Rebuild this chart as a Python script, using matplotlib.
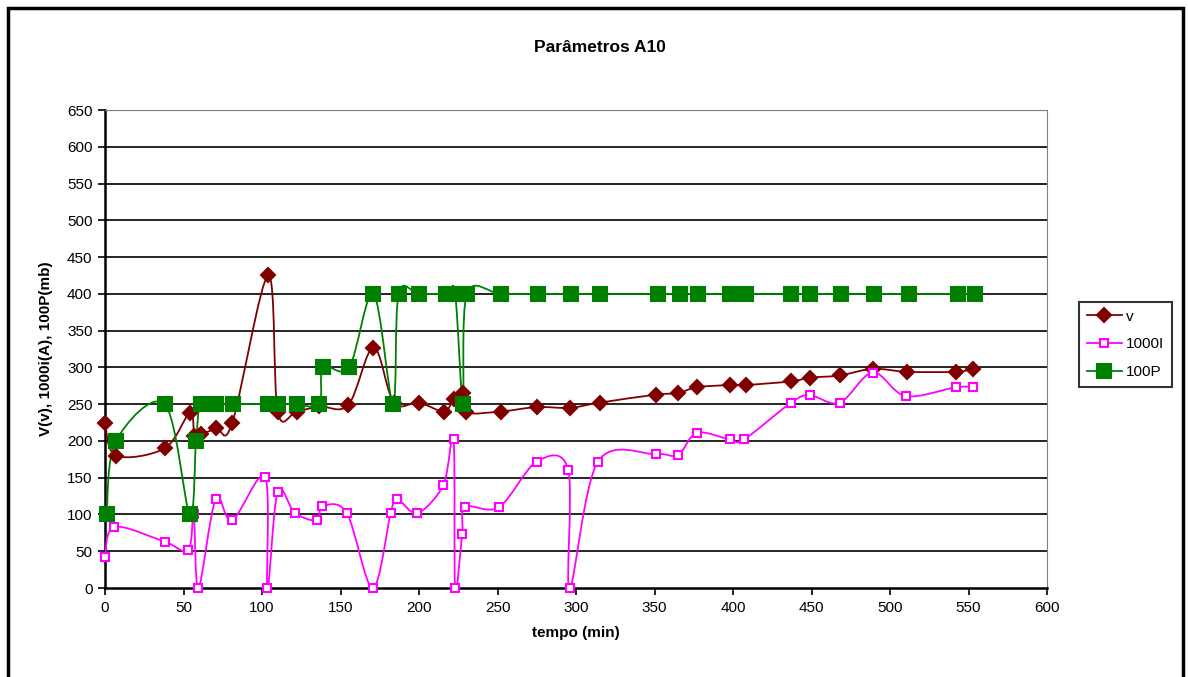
import numpy as np
import matplotlib
matplotlib.use('Agg')
import matplotlib.pyplot as plt
from matplotlib.path import Path
from matplotlib.patches import PathPatch, Rectangle
from matplotlib.lines import Line2D

plt.rcParams['font.family'] = ['Liberation Sans', 'DejaVu Sans']

# dados
t_v = [0, 7, 38, 54, 57, 61, 71, 81, 104, 110, 122, 136.5, 155, 171, 184, 200,
       216, 222, 228, 230, 252, 275, 296, 315, 351, 365, 377, 398, 408, 437,
       449, 468, 489, 511, 542, 553]
v = [225, 180, 190, 238, 207, 209, 217, 224, 425, 240, 240, 247, 249, 327, 252,
     252, 240, 257, 265, 239, 240, 246, 245, 252, 263, 265, 273, 276, 276, 281,
     286, 289, 298, 294, 294, 298]

t_i = [0, 6, 38, 53, 56.5, 59.5, 70.5, 81, 102, 103.5, 110, 121, 135, 138.5,
       154, 170.5, 182, 186, 199, 215.5, 222, 223, 227.5, 229.5, 251, 275, 295,
       296, 314, 351, 365, 377, 398, 407, 437, 449, 468, 489, 510, 542, 553]
i1000 = [42, 83, 63, 51, 100, 0, 121, 92, 151, 0, 131, 102, 92, 111, 102, 0,
         102, 121, 102, 140, 202, 0, 73, 110, 110, 172, 161, 0, 172, 182, 181,
         211, 202, 202, 252, 262, 252, 293, 261, 273, 273]

t_p = [1, 7, 38, 54, 58, 61, 71, 81.5, 104, 110.5, 122, 136.5, 139, 155.5, 171,
       183.5, 187, 200, 217.5, 223, 228, 230.5, 252, 276, 297, 315, 352, 366,
       378, 398, 408, 437, 449, 469, 490, 512, 543, 554]
p100 = [100, 200, 250, 100, 200, 250, 250, 250, 250, 250, 250, 250, 300, 300,
        400, 250, 400, 400, 400, 400, 250, 400, 400, 400, 400, 400, 400, 400,
        400, 400, 400, 400, 400, 400, 400, 400, 400, 400]

yticks = list(range(0, 651, 50))
xticks = list(range(0, 601, 50))


def smooth_path(x, y):
    # curva suavizada tipo Excel (Bezier)
    pts = np.column_stack([x, y]).astype(float)
    n = len(pts)
    verts = [pts[0]]
    codes = [Path.MOVETO]
    for k in range(n - 1):
        p0 = pts[k - 1] if k > 0 else pts[k]
        p1 = pts[k]
        p2 = pts[k + 1]
        p3 = pts[k + 2] if k + 2 < n else pts[k + 1]
        c1 = p1 + (p2 - p0) / 6
        c2 = p2 - (p3 - p1) / 6
        verts += [c1, c2, p2]
        codes += [Path.CURVE4] * 3
    return Path(verts, codes)


fig = plt.figure(figsize=(11.88, 6.77), dpi=100)
ax = fig.add_axes([105 / 1188, 1 - 588 / 677, 942 / 1188, 478 / 677])

series = [
    (t_v, v, '#800000', 'D', 7, '#800000', 'v'),
    (t_i, i1000, '#FF00FF', 's', 6, 'white', '1000I'),
    (t_p, p100, '#008000', 's', 10, '#008000', '100P'),
]
handles = []
for x, y, c, m, ms, fc, lab in series:
    ax.add_patch(PathPatch(smooth_path(x, y), fill=False, edgecolor=c,
                           lw=1.3, zorder=3))
    ax.plot(x, y, linestyle='none', marker=m, ms=ms, mfc=fc, mec=c,
            mew=1.5, zorder=4, clip_on=False)
    handles.append(Line2D([], [], color=c, lw=1.3, marker=m, ms=ms,
                          mfc=fc, mec=c, mew=1.5, label=lab))

ax.set_xlim(0, 600)
ax.set_ylim(0, 650)
ax.set_xticks(xticks)
ax.set_yticks(yticks)
ax.tick_params(labelsize=11, direction='out', length=5, width=1.2, pad=4)
for yy in yticks[1:-1]:
    ax.axhline(yy, color='black', lw=1.2, zorder=1)
ax.axhline(650, color='#808080', lw=1.5, zorder=1)
for s in ['top', 'right']:
    ax.spines[s].set_color('#808080')
for s in ['left', 'bottom']:
    ax.spines[s].set_linewidth(1.8)

ax.set_xlabel('tempo (min)', fontsize=11, fontweight='bold', labelpad=8)
ax.set_ylabel('V(v), 1000i(A), 100P(mb)', fontsize=11, fontweight='bold',
              labelpad=10)
fig.text(600 / 1188, 1 - 47 / 677, 'Parâmetros A10', fontsize=12.5,
         fontweight='bold', ha='center', va='center')

leg = fig.legend(handles=handles, loc='upper left',
                 bbox_to_anchor=(1079 / 1188, 1 - 302 / 677),
                 fontsize=11, frameon=True, fancybox=False, handlelength=2.3,
                 borderpad=0.5, labelspacing=0.9, handletextpad=0.3,
                 borderaxespad=0)
leg.get_frame().set_edgecolor('black')
leg.get_frame().set_linewidth(1.5)

fig.patches.append(Rectangle((8 / 1188, -0.05), 1175 / 1188, 1.05 - 8 / 677,
                             transform=fig.transFigure, fill=False,
                             edgecolor='black', lw=2.5))

fig.savefig('out.png', dpi=100)
